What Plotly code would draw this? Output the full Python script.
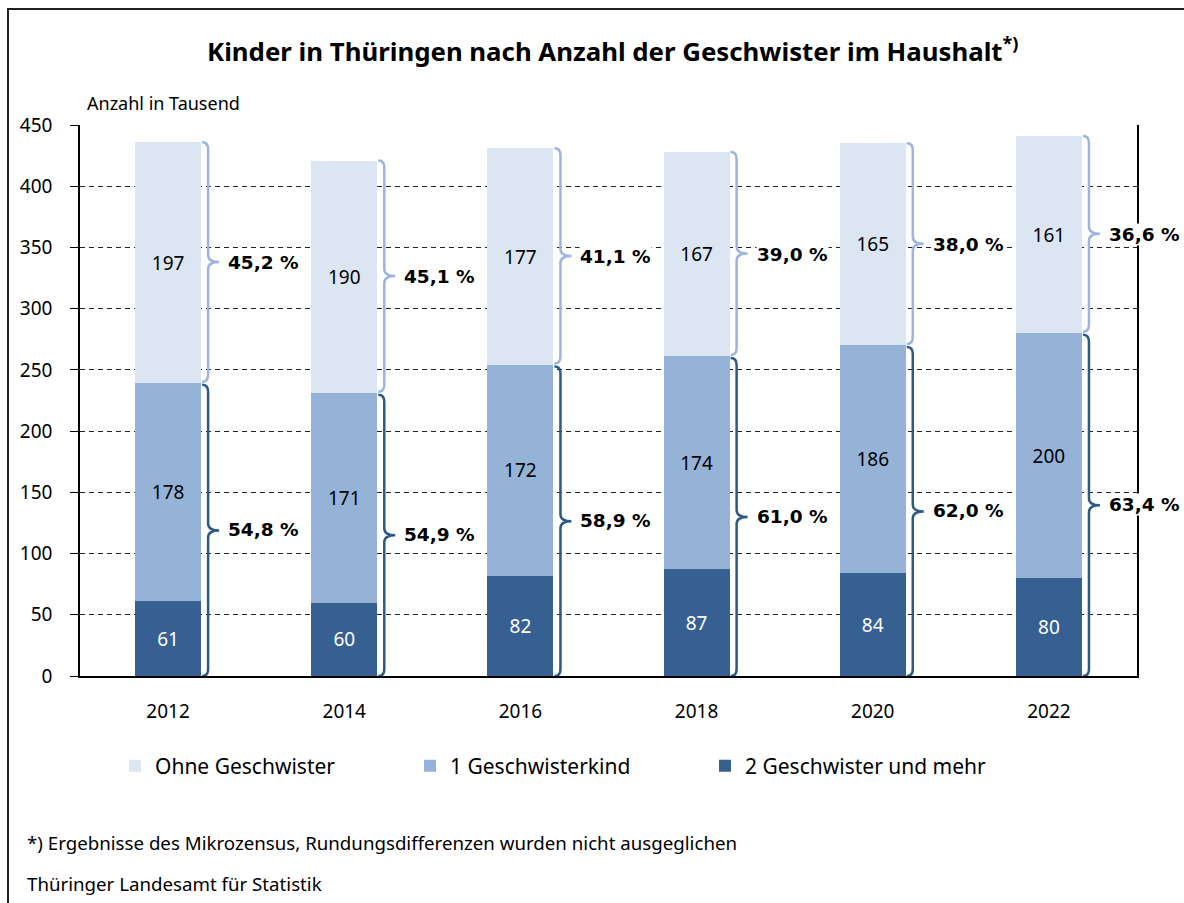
import plotly.graph_objects as go

# ---------------- data ----------------
years = [2012, 2014, 2016, 2018, 2020, 2022]
year_labels = ["2012", "2014", "2016", "2018", "2020", "2022"]
ohne = [197, 190, 177, 167, 165, 161]          # Ohne Geschwister
eins = [178, 171, 172, 174, 186, 200]          # 1 Geschwisterkind
zwei = [61, 60, 82, 87, 84, 80]                # 2 Geschwister und mehr
pct_ohne = [45.2, 45.1, 41.1, 39.0, 38.0, 36.6]
pct_mit = [54.8, 54.9, 58.9, 61.0, 62.0, 63.4]
y_ticks = [0, 50, 100, 150, 200, 250, 300, 350, 400, 450]

# ---------------- layout constants ----------------
W, H = 1184, 903
L, R, T, B = 80, 47, 125, 227
PW, PH = W - L - R, H - T - B
XR = [2011, 2023]
YR = [0, 450]
px_per_x = PW / (XR[1] - XR[0])
px_per_y = PH / (YR[1] - YR[0])
BARW = 0.75

def px2paper_x(px):
    return (px - L) / PW

def px2paper_y(py):
    return (H - B - py) / PH

C_LIGHT = "#DCE6F2"
C_MID = "#95B3D7"
C_DARK = "#366092"
C_BR_UP = "#9EB3DE"
C_BR_LO = "#2D5986"

NUMFONT = "Noto Sans"
BOLDFONT = "DejaVu Sans"
TXTFONT = "Noto Sans"

fig = go.Figure()
fig.add_trace(go.Bar(x=years, y=zwei, name="2 Geschwister und mehr", marker_color=C_DARK,
                     text=zwei, textposition="inside", insidetextanchor="middle",
                     textfont=dict(family=NUMFONT, size=19, color="white"), textangle=0,
                     width=BARW, legendrank=3, marker_line_width=0))
fig.add_trace(go.Bar(x=years, y=eins, name="1 Geschwisterkind", marker_color=C_MID,
                     text=eins, textposition="inside", insidetextanchor="middle",
                     textfont=dict(family=NUMFONT, size=19, color="black"), textangle=0,
                     width=BARW, legendrank=2, marker_line_width=0))
fig.add_trace(go.Bar(x=years, y=ohne, name="Ohne Geschwister", marker_color=C_LIGHT,
                     text=ohne, textposition="inside", insidetextanchor="middle",
                     textfont=dict(family=NUMFONT, size=19, color="black"), textangle=0,
                     width=BARW, legendrank=1, marker_line_width=0))

def brace_path(xs, y_top, y_bot):
    x0 = xs
    x1 = xs + 6 / px_per_x
    xt = xs + 17 / px_per_x
    r = 7 / px_per_y
    ym = (y_top + y_bot) / 2
    return (f"M {x0},{y_top} Q {x1},{y_top} {x1},{y_top - r} "
            f"L {x1},{ym + r} Q {x1},{ym} {xt},{ym} "
            f"Q {x1},{ym} {x1},{ym - r} L {x1},{y_bot + r} "
            f"Q {x1},{y_bot} {x0},{y_bot}")

shapes = []
annotations = []
gap = 1.5 / px_per_y
for i, yr in enumerate(years):
    bound = zwei[i] + eins[i]
    top = bound + ohne[i]
    xs = yr + BARW / 2 + 1 / px_per_x
    shapes.append(dict(type="path", xref="x", yref="y", path=brace_path(xs, top, bound + gap),
                       line=dict(color=C_BR_UP, width=2.5)))
    shapes.append(dict(type="path", xref="x", yref="y", path=brace_path(xs, bound - gap, 0),
                       line=dict(color=C_BR_LO, width=2.5)))
    xl = yr + BARW / 2 + 26 / px_per_x
    for val, ym in ((pct_ohne[i], (top + bound) / 2), (pct_mit[i], bound / 2)):
        annotations.append(dict(x=xl, y=ym, xref="x", yref="y", xanchor="left", yanchor="middle",
                                text="<b>" + f"{val:.1f}".replace(".", ",") + " %</b>",
                                showarrow=False, bgcolor="white", borderpad=0,
                                font=dict(family=BOLDFONT, size=18.5, color="black")))

# outer frame
shapes.append(dict(type="rect", xref="paper", yref="paper", layer="above",
                   x0=px2paper_x(8), x1=px2paper_x(W + 20), y0=px2paper_y(9), y1=px2paper_y(H + 20),
                   line=dict(color="#222222", width=2)))

# title and texts
annotations.append(dict(x=px2paper_x(612), y=px2paper_y(50), xref="paper", yref="paper",
                        xanchor="center", yanchor="middle", showarrow=False,
                        text="<b>Kinder in Thüringen nach Anzahl der Geschwister im Haushalt<sup>*)</sup></b>",
                        font=dict(family=TXTFONT, size=25.8, color="black")))
annotations.append(dict(x=px2paper_x(85), y=px2paper_y(103), xref="paper", yref="paper",
                        xanchor="left", yanchor="middle", showarrow=False,
                        text="Anzahl in Tausend", font=dict(family=TXTFONT, size=18, color="black")))
annotations.append(dict(x=px2paper_x(25), y=px2paper_y(842), xref="paper", yref="paper",
                        xanchor="left", yanchor="middle", showarrow=False,
                        text="*) Ergebnisse des Mikrozensus, Rundungsdifferenzen wurden nicht ausgeglichen",
                        font=dict(family=TXTFONT, size=18.7, color="black")))
annotations.append(dict(x=px2paper_x(25), y=px2paper_y(883), xref="paper", yref="paper",
                        xanchor="left", yanchor="middle", showarrow=False,
                        text="Thüringer Landesamt für Statistik",
                        font=dict(family=TXTFONT, size=18.7, color="black")))

fig.update_layout(
    width=W, height=H, barmode="stack",
    margin=dict(l=L, r=R, t=T, b=B, autoexpand=False),
    paper_bgcolor="white", plot_bgcolor="white",
    showlegend=True,
    legend=dict(orientation="h", x=px2paper_x(115), y=px2paper_y(766), xanchor="left", yanchor="middle",
                entrywidth=250, entrywidthmode="pixels", traceorder="normal",
                font=dict(family=TXTFONT, size=21, color="black"), itemclick=False),
    shapes=shapes, annotations=annotations, hovermode=False,
    xaxis=dict(range=XR, tickvals=years, ticktext=year_labels, showgrid=False, zeroline=False,
               showline=True, linecolor="black", linewidth=1.5, ticks="",
               tickfont=dict(family=NUMFONT, size=19, color="black"), ticklabelstandoff=17),
    yaxis=dict(range=YR, tickvals=y_ticks, showgrid=True, gridcolor="#222222", gridwidth=1,
               griddash="5px,4px", zeroline=False, showline=True, mirror=True,
               linecolor="black", linewidth=1.5, ticks="outside", ticklen=8, tickcolor="black",
               tickfont=dict(family=NUMFONT, size=19, color="black"), ticklabelstandoff=14),
)

fig.write_html("out.html", config={"displayModeBar": False},
               post_script="document.body.style.margin='0';document.body.style.overflow='hidden';")
